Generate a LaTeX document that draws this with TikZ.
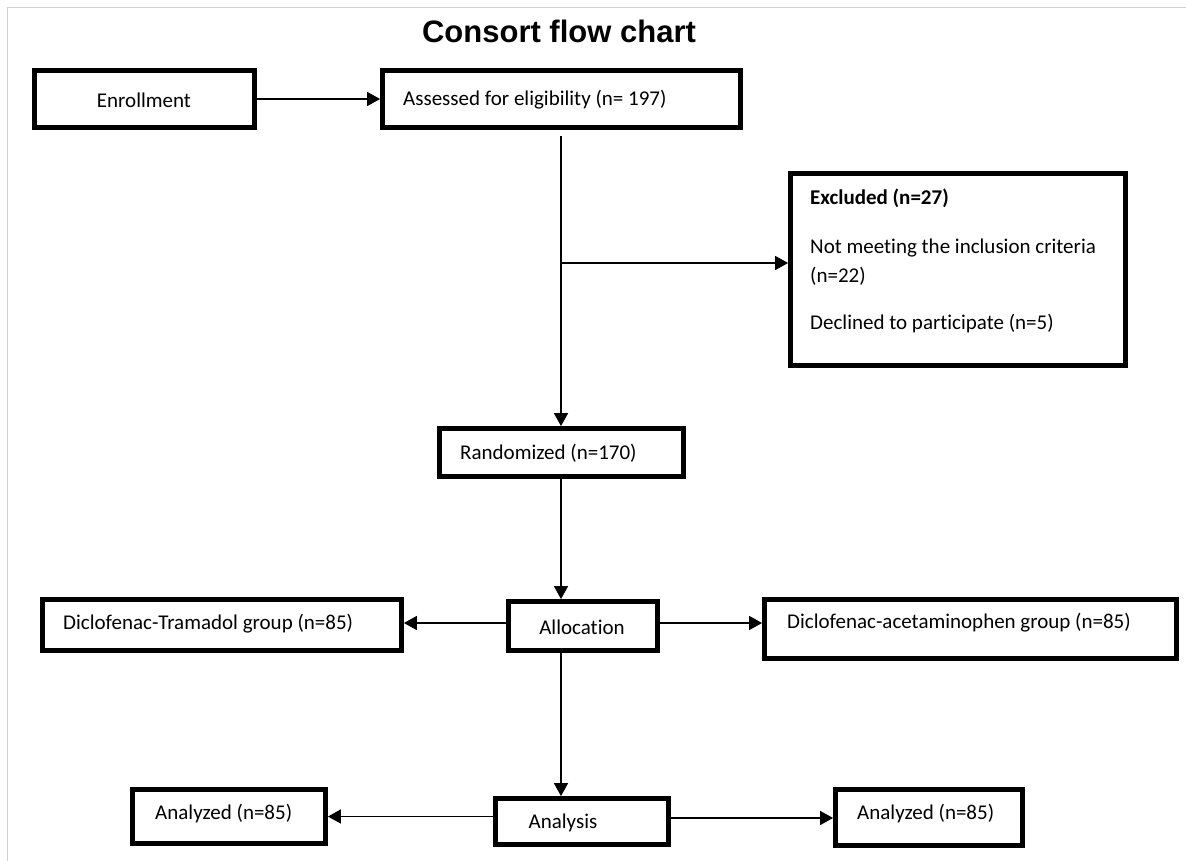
\documentclass[tikz,border=0pt]{standalone}
\usepackage{fontspec}
\setmainfont{Carlito}[Ligatures=NoCommon]
\newfontfamily\titlefont{Liberation Sans}
\usetikzlibrary{arrows.meta}
\tikzset{
  box/.style={draw=black, line width=4.8pt, inner sep=0pt, fill=white},
  txt/.style={inner sep=0pt, font=\fontsize{21}{25}\selectfont},
  conn/.style={line width=1.5pt, -{Triangle[length=13pt,width=14pt]}},
  frame/.style={draw=black!18, line width=1.5pt}
}
\begin{document}
\begin{tikzpicture}[x=1pt,y=-1pt]
\useasboundingbox (0,0) rectangle (1186,861);
\draw[frame] (7.5,861) -- (7.5,7.5) -- (1186,7.5);

\node[inner sep=0pt, anchor=base, font=\titlefont\bfseries\fontsize{31}{36}\selectfont] (title) at (559,43) {Consort flow chart};

% boxes
\node[box, minimum width=220pt, minimum height=57pt] (enroll) at (144.5,99) {};
\node[box, minimum width=358pt, minimum height=57pt] (assess) at (561.5,99) {};
\node[box, minimum width=335pt, minimum height=192pt] (excl) at (958,269.5) {};
\node[box, minimum width=244pt, minimum height=48pt] (rand) at (561.5,452.5) {};
\node[box, minimum width=149pt, minimum height=49pt] (alloc) at (583,626) {};
\node[box, minimum width=359pt, minimum height=51pt] (dt) at (222,625) {};
\node[box, minimum width=412pt, minimum height=59pt] (da) at (970.5,629) {};
\node[box, minimum width=173pt, minimum height=46pt] (anal) at (582,821.5) {};
\node[box, minimum width=193pt, minimum height=54pt] (anl) at (229,816.5) {};
\node[box, minimum width=187pt, minimum height=56pt] (anr) at (929,817.5) {};

% texts
\node[txt] (enroll-t) at (144,100) {Enrollment};
\node[txt, anchor=west] (assess-t) at (403,100) {Assessed for eligibility (n= 197)};
\node[txt, anchor=west, font=\bfseries\fontsize{21}{25}\selectfont] (excl-t1) at (810,198) {Excluded (n=27)};
\node[txt, anchor=west] (excl-t2) at (810,248) {Not meeting the inclusion criteria};
\node[txt, anchor=west] (excl-t3) at (810,276) {(n=22)};
\node[txt, anchor=west] (excl-t4) at (810,324) {Declined to participate (n=5)};
\node[txt, anchor=west] (rand-t) at (460,453) {Randomized (n=170)};
\node[txt] (alloc-t) at (582,627) {Allocation};
\node[txt, anchor=west] (dt-t) at (63,624) {Diclofenac-Tramadol group (n=85)};
\node[txt, anchor=west] (da-t) at (787,623) {Diclofenac-acetaminophen group (n=85)};
\node[txt] (anal-t) at (563,823) {Analysis};
\node[txt, anchor=west] (anl-t) at (155,814) {Analyzed (n=85)};
\node[txt, anchor=west] (anr-t) at (857,814) {Analyzed (n=85)};

% connectors
\coordinate (vtop) at (561,136);
\coordinate (branch) at (561,263);
\draw[conn] (enroll.east) -- (assess.west);
\draw[conn] (vtop) -- (vtop |- rand.north);
\draw[conn] (branch) -- (branch -| excl.west);
\draw[conn] (vtop |- rand.south) -- (vtop |- alloc.north);
\draw[conn] ([yshift=3pt]alloc.west) -- ([yshift=3pt]alloc.west -| dt.east);
\draw[conn] ([yshift=3pt]alloc.east) -- ([yshift=3pt]alloc.east -| da.west);
\draw[conn] (vtop |- alloc.south) -- (vtop |- anal.north);
\draw[conn] (anal.west |- anl.east) -- (anl.east);
\draw[conn] ([yshift=3.5pt]anal.east) -- ([yshift=3.5pt]anal.east -| anr.west);
\end{tikzpicture}
\end{document}
